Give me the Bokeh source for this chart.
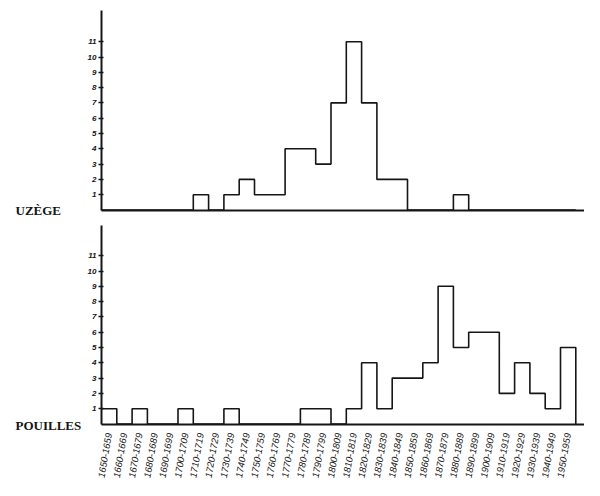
from bokeh.plotting import figure
from bokeh.models import LinearAxis, FixedTicker, Label, Range1d
from bokeh.layouts import column
from bokeh.embed import file_html
from bokeh.resources import INLINE

decades = ["1650-1659", "1660-1669", "1670-1679", "1680-1689", "1690-1699",
           "1700-1709", "1710-1719", "1720-1729", "1730-1739", "1740-1749",
           "1750-1759", "1760-1769", "1770-1779", "1780-1789", "1790-1799",
           "1800-1809", "1810-1819", "1820-1829", "1830-1839", "1840-1849",
           "1850-1859", "1860-1869", "1870-1879", "1880-1889", "1890-1899",
           "1900-1909", "1910-1919", "1920-1929", "1930-1939", "1940-1949",
           "1950-1959"]
uzege = [0, 0, 0, 0, 0, 0, 1, 0, 1, 2, 1, 1, 4, 4, 3, 7, 11, 7, 2, 2,
         0, 0, 0, 1, 0, 0, 0, 0, 0, 0, 0]
pouilles = [1, 0, 1, 0, 0, 1, 0, 0, 1, 0, 0, 0, 0, 1, 1, 0, 1, 4, 1, 3,
            3, 4, 9, 5, 6, 6, 2, 4, 2, 1, 5]
y_ticks = [1, 2, 3, 4, 5, 6, 7, 8, 9, 10, 11]

W = 584
U = 15.3          # pixels per unit (decade / count)
AX = 101          # y axis position in figure pixels
INK = "#161616"


def make_panel(values, name, height, base, show_labels, axis_top_px, name_dy):
    p = figure(width=W, height=height, output_backend="svg", toolbar_location=None,
               x_axis_type=None, y_axis_type=None,
               x_range=Range1d(-AX / U, (W - AX) / U),
               y_range=Range1d(-(height - base) / U, base / U),
               min_border=0, min_border_left=0, min_border_right=0,
               min_border_top=0, min_border_bottom=0)
    p.outline_line_color = None
    p.background_fill_color = "white"
    p.border_fill_color = "white"

    yaxis = LinearAxis(fixed_location=0, ticker=FixedTicker(ticks=y_ticks),
                       bounds=(0, (base - axis_top_px) / U))
    yaxis.axis_line_width = 2
    yaxis.axis_line_color = INK
    yaxis.major_tick_in = 2
    yaxis.major_tick_out = 3
    yaxis.major_tick_line_color = INK
    yaxis.major_tick_line_width = 1.3
    yaxis.minor_tick_line_color = None
    yaxis.major_label_text_font = "Liberation Sans"
    yaxis.major_label_text_font_style = "bold italic"
    yaxis.major_label_text_font_size = "8px"
    yaxis.major_label_text_color = INK
    yaxis.major_label_standoff = 2
    p.add_layout(yaxis, "left")

    centers = [i + 0.5 for i in range(len(decades))]
    xaxis = LinearAxis(fixed_location=0, bounds=(0, (W - AX) / U),
                       ticker=FixedTicker(ticks=centers if show_labels else []))
    xaxis.axis_line_width = 2
    xaxis.axis_line_color = INK
    xaxis.major_tick_line_color = None
    xaxis.minor_tick_line_color = None
    if show_labels:
        xaxis.major_label_overrides = {c: d for c, d in zip(centers, decades)}
        xaxis.major_label_orientation = 1.40
        xaxis.major_label_text_font = "Liberation Sans"
        xaxis.major_label_text_font_style = "italic"
        xaxis.major_label_text_font_size = "9.5px"
        xaxis.major_label_text_color = INK
        xaxis.major_label_standoff = 3
    else:
        xaxis.major_label_text_font_size = "0px"
    p.add_layout(xaxis, "below")

    edges = list(range(len(values) + 1))
    p.step(x=edges, y=values + [0], mode="after", line_width=1.6, line_color=INK)

    p.add_layout(Label(x=-86 / U, y=name_dy / U, text=name,
                       text_font="Liberation Serif", text_font_style="bold",
                       text_font_size="13px", text_color=INK,
                       text_align="left", text_baseline="alphabetic"))
    return p


top = make_panel(uzege, "UZÈGE", 222, 209.5, False, 10, 0)
bottom = make_panel(pouilles, "POUILLES", 258, 201.5, True, 3, -1.5)
layout = column(top, bottom, spacing=0)

open("out.html", "w").write(file_html(layout, INLINE))
